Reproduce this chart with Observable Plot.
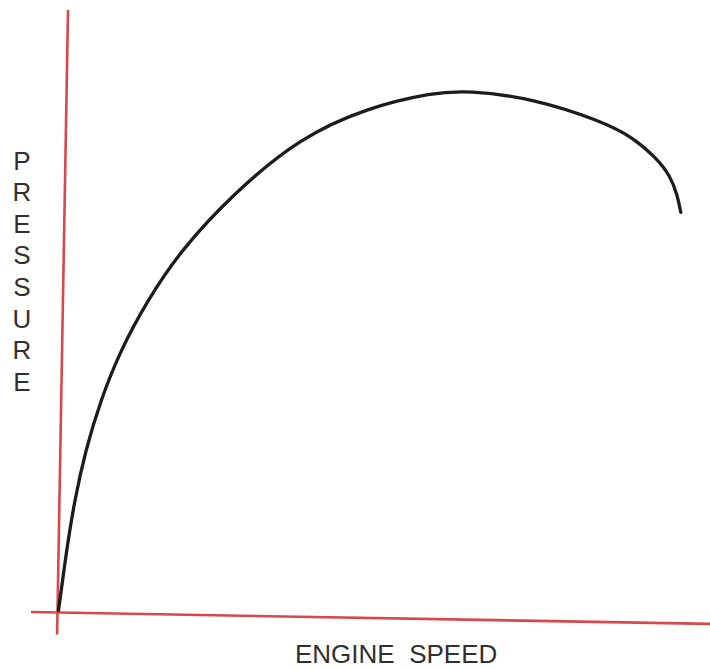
<!DOCTYPE html>
<html>
<head>
<meta charset="utf-8">
<script src="https://cdn.jsdelivr.net/npm/d3@7"></script>
<script src="https://cdn.jsdelivr.net/npm/@observablehq/plot@0.6"></script>
<style>
  html, body { margin: 0; padding: 0; background: #fff; overflow: hidden; }
  #wrap { position: relative; width: 710px; height: 669px; background: #fff; }
  #wrap svg { position: absolute; left: 0; top: 0; transform: rotate(1deg); transform-origin: 57px 612px; }
  .lbl { position: absolute; font-family: "Liberation Sans", Arial, Helvetica, sans-serif; font-size: 26px; line-height: 22px; color: #303030; white-space: pre; }
</style>
</head>
<body>
<div id="wrap"></div>
<script>
// Engine speed (arbitrary %, 0-100) vs pressure (arbitrary %, 0-100)
const speed    = [0.15, 1.22, 2.32, 3.87, 6.05, 8.98, 13.0, 17.95, 25.95, 36.1, 46.3, 56.4, 61.7, 71.8, 82.2, 87.3, 90.8, 93.1, 94.25, 94.8];
const pressure = [0.36, 11.1, 20.05, 29.0, 38.0, 47.0, 56.0, 65.0, 75.4, 85.6, 91.1, 94.0, 94.5, 93.25, 89.5, 86.6, 83.1, 79.9, 76.4, 73.4];
const xLabel = "ENGINE  SPEED";
const yLabel = "PRESSURE";
const speedAxisExtent = [-4, 101];
const pressureAxisExtent = [-4, 107.5];

const curve = speed.map((s, i) => ({speed: s, pressure: pressure[i]}));

const chart = Plot.plot({
  width: 710,
  height: 669,
  marginLeft: 57,
  marginRight: 3,
  marginTop: 52,
  marginBottom: 57,
  x: {domain: [0, 100], axis: null},
  y: {domain: [0, 100], axis: null},
  marks: [
    Plot.ruleY([0], {x1: speedAxisExtent[0], x2: speedAxisExtent[1], stroke: "#d7474e", strokeWidth: 2.6}),
    Plot.ruleX([0], {y1: pressureAxisExtent[0], y2: pressureAxisExtent[1], stroke: "#d7474e", strokeWidth: 2.6}),
    Plot.line(curve, {x: "speed", y: "pressure", curve: "basis", stroke: "#1c1c1c", strokeWidth: 3.3, strokeLinecap: "round"})
  ]
});
chart.style.overflow = "visible";
const wrap = document.getElementById("wrap");
wrap.appendChild(chart);

// x label
const xl = document.createElement("div");
xl.className = "lbl";
xl.textContent = xLabel;
xl.style.left = "295px";
xl.style.top = "643px";
wrap.appendChild(xl);

// y label: stacked letters
[...yLabel].forEach((ch, i) => {
  const d = document.createElement("div");
  d.className = "lbl";
  d.textContent = ch;
  d.style.width = "30px";
  d.style.textAlign = "center";
  d.style.left = "7px";
  d.style.top = (160 + i * 31.6 - 10.5) + "px";
  wrap.appendChild(d);
});
</script>
</body>
</html>
